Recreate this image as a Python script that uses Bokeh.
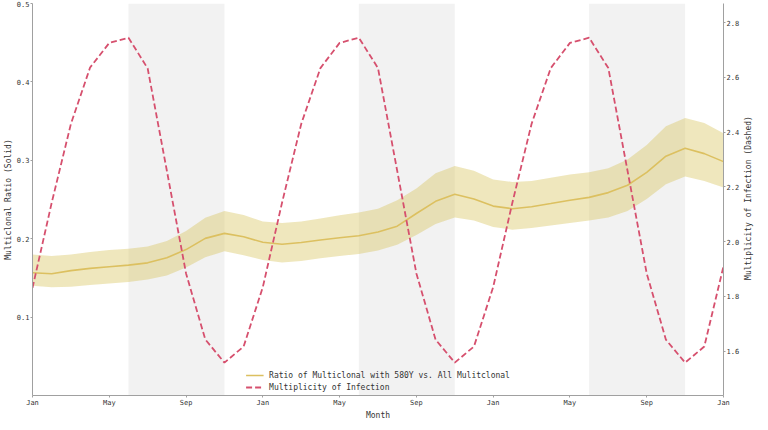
import math
from bokeh.plotting import figure
from bokeh.models import Range1d, LinearAxis, FixedTicker, BoxAnnotation, NumeralTickFormatter, Label
from bokeh.embed import file_html
from bokeh.resources import INLINE

# ---- data ----
month_index = list(range(37))
tick_positions = [0, 4, 8, 12, 16, 20, 24, 28, 32, 36]
tick_labels = ["Jan", "May", "Sep", "Jan", "May", "Sep", "Jan", "May", "Sep", "Jan"]

ratio_mean = [0.1565, 0.1552, 0.1593, 0.1621, 0.1642, 0.1663, 0.1692, 0.1757, 0.1861, 0.2004,
              0.2068, 0.2025, 0.1954, 0.1930, 0.1951, 0.1984, 0.2012, 0.2037, 0.2086, 0.2160,
              0.2321, 0.2477, 0.2567, 0.2506, 0.2416, 0.2382, 0.2407, 0.2448, 0.2490, 0.2527,
              0.2588, 0.2682, 0.2847, 0.3052, 0.3155, 0.3085, 0.2983]
ratio_upper = [0.1799, 0.1778, 0.1799, 0.1831, 0.1856, 0.1873, 0.1901, 0.1972, 0.2099, 0.2268,
               0.2354, 0.2302, 0.2219, 0.2201, 0.2218, 0.2259, 0.2300, 0.2333, 0.2382, 0.2490,
               0.2641, 0.2835, 0.2928, 0.2867, 0.2756, 0.2724, 0.2736, 0.2777, 0.2818, 0.2847,
               0.2900, 0.3011, 0.3196, 0.3434, 0.3538, 0.3476, 0.3344]
ratio_lower = [0.1400, 0.1380, 0.1387, 0.1408, 0.1429, 0.1449, 0.1478, 0.1531, 0.1634, 0.1762,
               0.1840, 0.1790, 0.1729, 0.1695, 0.1716, 0.1750, 0.1778, 0.1806, 0.1848, 0.1922,
               0.2046, 0.2189, 0.2271, 0.2231, 0.2148, 0.2115, 0.2136, 0.2169, 0.2201, 0.2231,
               0.2271, 0.2354, 0.2506, 0.2694, 0.2793, 0.2736, 0.2654]
moi = [1.831, 2.142, 2.430, 2.636, 2.726, 2.745, 2.633, 2.259, 1.884, 1.643, 1.558, 1.617,
       1.834, 2.142, 2.430, 2.634, 2.726, 2.745, 2.634, 2.259, 1.884, 1.642, 1.558, 1.617,
       1.834, 2.142, 2.430, 2.634, 2.726, 2.745, 2.634, 2.259, 1.884, 1.642, 1.558, 1.617,
       1.910]
shade_start = [5, 17, 29]
shade_end = [10, 22, 34]
left_ticks = [0.1, 0.2, 0.3, 0.4, 0.5]
right_ticks = [1.6, 1.8, 2.0, 2.2, 2.4, 2.6, 2.8]

FONT = "DejaVu Sans Mono"
YELLOW = "#dcc060"
RED = "#d6506e"
AXIS_GREY = "#a0a0a0"
TEXT = "#333333"
RIGHT_TITLE = "Multiplicity of Infection (Dashed)"

p = figure(width=760, height=422, x_range=Range1d(0, 36), y_range=Range1d(0, 0.5),
           output_backend="svg", toolbar_location=None,
           min_border_top=3, min_border_bottom=0, min_border_left=0, min_border_right=0)
p.extra_y_ranges = {"moi": Range1d(1.438, 2.87)}
p.outline_line_color = None
p.xgrid.visible = False
p.ygrid.visible = False

for s, e in zip(shade_start, shade_end):
    p.add_layout(BoxAnnotation(left=s, right=e, fill_color="#f2f2f2", fill_alpha=1.0,
                               line_color=None, level="underlay"))

p.varea(x=month_index, y1=ratio_lower, y2=ratio_upper, fill_color="#d8c45a", fill_alpha=0.4)
p.line(month_index, ratio_mean, line_color=YELLOW, line_width=1.6,
       legend_label="Ratio of Multiclonal with 580Y vs. All Mulitclonal")
p.line(month_index, moi, line_color=RED, line_width=1.8, line_dash="6 3",
       y_range_name="moi", legend_label="Multiplicity of Infection")

right_axis = LinearAxis(y_range_name="moi")
p.add_layout(right_axis, "right")

p.xaxis.ticker = FixedTicker(ticks=tick_positions)
p.xaxis.major_label_overrides = {t: l for t, l in zip(tick_positions, tick_labels)}
p.xaxis.axis_label = "Month"
p.yaxis[0].axis_label = "Multiclonal Ratio (Solid)"
p.yaxis[0].ticker = FixedTicker(ticks=left_ticks)
p.yaxis[0].formatter = NumeralTickFormatter(format="0.0")
right_axis.ticker = FixedTicker(ticks=right_ticks)
right_axis.formatter = NumeralTickFormatter(format="0.0")

for ax in [p.xaxis[0], p.yaxis[0], right_axis]:
    ax.axis_line_color = AXIS_GREY
    ax.axis_line_width = 1
    ax.major_tick_line_color = AXIS_GREY
    ax.major_tick_out = 2
    ax.major_tick_in = 0
    ax.minor_tick_line_color = None
    ax.major_label_text_font = FONT
    ax.major_label_text_font_size = "7px"
    ax.major_label_text_color = TEXT
    ax.major_label_standoff = 1
    ax.axis_label_text_font = FONT
    ax.axis_label_text_font_size = "8px"
    ax.axis_label_text_font_style = "normal"
    ax.axis_label_text_color = TEXT
    ax.axis_label_standoff = 1

props = right_axis.properties()
if "axis_label_orientation" in props and "axis_label_align" in props:
    # rotated to read bottom-to-top; text starts at the anchor, so anchor at the
    # bottom of the axis and pad with non-breaking spaces to centre it
    right_axis.axis_label = "\u00a0" * 24 + RIGHT_TITLE
    right_axis.axis_label_orientation = math.pi / 2
    right_axis.axis_label_align = "start"
    right_axis.axis_label_standoff = 6
elif "axis_label_orientation" in props:
    right_axis.axis_label = RIGHT_TITLE
    right_axis.axis_label_orientation = math.pi / 2
    right_axis.axis_label_standoff = 6
else:
    p.min_border_right = 26
    p.add_layout(Label(x=36, y=0.25, x_offset=20, angle=math.pi / 2, text=RIGHT_TITLE,
                       text_font=FONT, text_font_size="8px", text_color=TEXT,
                       text_align="center", text_baseline="middle"))

lg = p.legend[0]
lg.location = "bottom_center"
lg.background_fill_alpha = 0
lg.border_line_color = None
lg.label_text_font = FONT
lg.label_text_font_size = "8px"
lg.label_text_color = TEXT
lg.glyph_width = 18
lg.glyph_height = 10
lg.label_height = 10
lg.spacing = 2
lg.padding = 3
lg.margin = 3
lg.label_standoff = 6

open("out.html", "w").write(file_html(p, INLINE))
